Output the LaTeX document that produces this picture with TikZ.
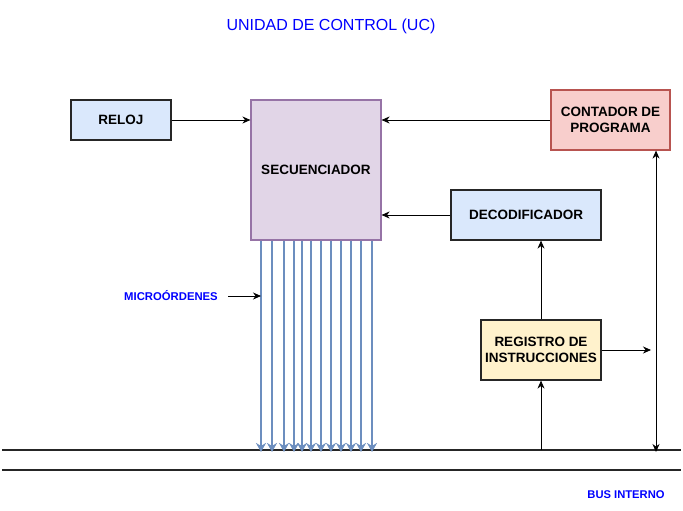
\documentclass[tikz,border=0pt]{standalone}
\usepackage{fontspec}
\setmainfont{Liberation Sans}
\usetikzlibrary{arrows.meta}
\definecolor{ucblue}{HTML}{0000FF}
\definecolor{microblue}{HTML}{6C8EBF}
\definecolor{seqfill}{HTML}{E1D5E7}
\definecolor{seqdraw}{HTML}{9673A6}
\definecolor{pcfill}{HTML}{F8CECC}
\definecolor{pcdraw}{HTML}{B85450}
\definecolor{bluefill}{HTML}{DAE8FC}
\definecolor{yelfill}{HTML}{FFF2CC}
\tikzset{
  box/.style={draw=black!85, line width=1.2pt, align=center, inner sep=0pt,
    font=\fontsize{13.5}{16}\selectfont\bfseries},
  conn/.style={draw=black, line width=0.8pt, -{Stealth[length=8pt,width=7pt]}},
  biconn/.style={draw=black, line width=0.8pt, {Stealth[length=8pt,width=7pt]}-{Stealth[length=8pt,width=7pt]}},
  micro/.style={draw=microblue, line width=1.8pt, -{Stealth[length=9pt,width=10pt]}},
  bluetext/.style={text=ucblue, inner sep=0pt},
  busline/.style={draw=black!85, line width=1.2pt}
}
\begin{document}
\begin{tikzpicture}[x=1pt,y=-1pt]
\useasboundingbox (0,0) rectangle (683,511);
\node[bluetext, font=\fontsize{16}{19}\selectfont] (title) at (331,26) {UNIDAD DE CONTROL (UC)};
\node[box, fill=bluefill, minimum width=100pt, minimum height=40pt] (reloj) at (121,120) {RELOJ};
\node[box, fill=seqfill, draw=seqdraw, minimum width=130pt, minimum height=140pt] (seq) at (316,170) {SECUENCIADOR};
\node[box, fill=pcfill, draw=pcdraw, minimum width=119pt, minimum height=60pt] (pc) at (610.5,120) {CONTADOR DE\\PROGRAMA};
\node[box, fill=bluefill, minimum width=150pt, minimum height=50pt] (dec) at (526,215) {DECODIFICADOR};
\node[box, fill=yelfill, minimum width=120pt, minimum height=60pt] (ri) at (541,350) {REGISTRO DE\\INSTRUCCIONES};
\node[bluetext, font=\fontsize{11.3}{13}\selectfont\bfseries] (micro) at (171,296) {MICROÓRDENES};
\node[bluetext, font=\fontsize{11.2}{13}\selectfont\bfseries] (busname) at (626,495) {BUS INTERNO};

\coordinate (busL) at (2,450);
\coordinate (busE) at (681,450);
\coordinate (bus2L) at (2,470);
\coordinate (bus2E) at (681,470);
\coordinate (vline) at (656,450);
\coordinate (riout) at (651,350);
\coordinate (mstart) at (228,296);
\coordinate (mend) at (261,296);

\draw[busline] (busL) -- (busE);
\draw[busline] (bus2L) -- (bus2E);

\foreach \x [count=\i] in {261,272,284,294,302,311,321,331,341,351,361,372} {
  \coordinate (m\i) at (\x,0);
  \draw[micro] (seq.south -| m\i) -- ([yshift=-2pt]busL -| m\i);
}

\draw[conn] (reloj.east) -- (reloj.east -| seq.west);
\draw[conn] (pc.west) -- (pc.west -| seq.east);
\draw[conn] (dec.west) -- (dec.west -| seq.east);
\draw[conn] (ri.north) -- (ri.north |- dec.south);
\draw[conn] (ri.south |- busL) -- (ri.south);
\draw[conn] (ri.east) -- (riout);
\draw[biconn] ([yshift=-2pt]vline) -- (vline |- pc.south);
\draw[conn] (mstart) -- (mend);
\end{tikzpicture}
\end{document}
